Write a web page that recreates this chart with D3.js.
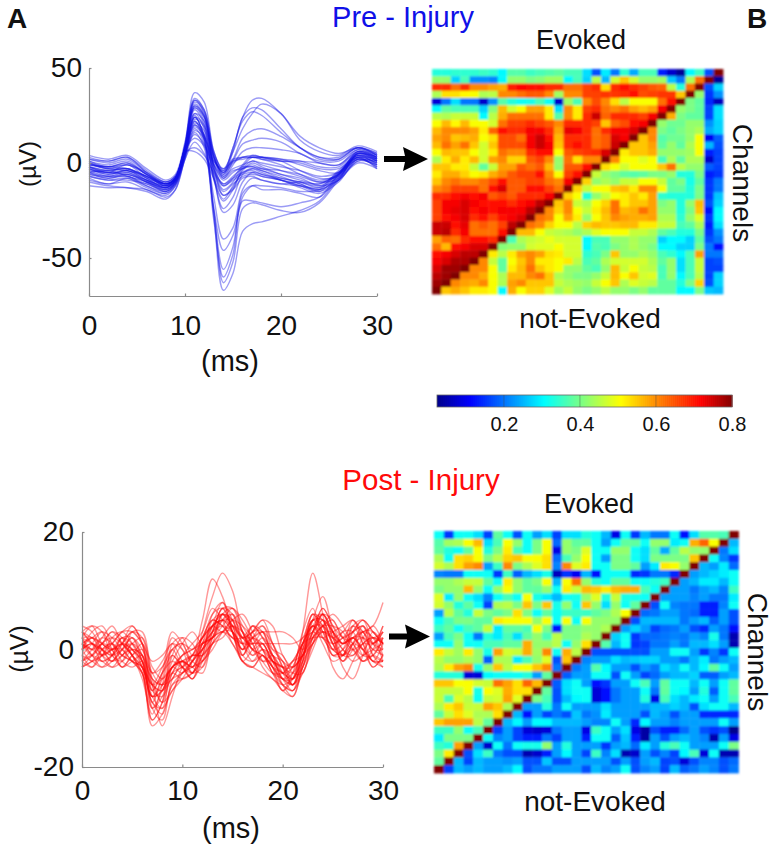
<!DOCTYPE html>
<html>
<head>
<meta charset="utf-8">
<script src="https://cdn.jsdelivr.net/npm/d3@7"></script>
<style>
body { margin: 0; background: #fff; }
text { font-family: "Liberation Sans", Arial, sans-serif; fill: #111; }
</style>
</head>
<body>
<div id="viz"></div>
<script>
// time knots of the traces (ms)
const preTimes = [0,2,4,6,8,9,10,11,12,13,14,15,16,17,18,20,22,24,26,28,30]
const postTimes = d3.range(0, 31)

// pre-injury traces (uV), one row per channel
const preTraces = [
  [-5,-7,-6,-10,-13,-9,4,20,12,-28,-67,-58,-36,-32,-31,-28,-25,-20,-8,2,0],
  [-2,-4,-3,-8,-11,-8,5,24,14,-24,-63,-52,-24,-21,-22,-25,-26,-21,-9,1,1],
  [-7,-9,-8,-13,-16,-11,3,18,10,-30,-60,-48,-20,-20,-21,-23,-21,-18,-6,3,2],
  [-4,-7,-7,-11,-14,-10,4,22,12,-26,-56,-44,-16,-12,-14,-14,-16,-18,-7,2,-1],
  [-9,-11,-10,-14,-17,-12,2,16,8,-24,-46,-38,-18,-12,-12,-13,-15,-14,-5,4,1],
  [-6,-8,-7,-12,-15,-10,5,25,13,-18,-40,-34,-14,-8,-9,-11,-12,-13,-4,3,0],
  [1,-2,0,-6,-12,-8,8,30,24,-6,-26,-22,-10,-5,-6,-9,-11,-15,-9,5,3],
  [-3,-5,-4,-9,-14,-10,6,28,20,-8,-24,-18,-6,-3,-4,-8,-10,-12,-6,4,2],
  [-5,-4,-7,-10,-15,-11,5,26,18,-9,-20,-14,-4,0,-2,-6,-9,-11,-5,5,2],
  [-8,-11,-8,-12,-16,-12,4,24,15,-8,-19,-12,-5,-3,-5,-9,-13,-16,-10,2,-2],
  [2,1,3,-5,-11,-8,9,33,26,-2,-17,-13,-3,1,-1,-4,-7,-10,-6,6,3],
  [-2,-5,-1,-8,-13,-9,7,29,22,-3,-14,-10,-2,3,2,-1,-6,-10,-8,5,1],
  [-1,-3,-4,-7,-12,-9,8,31,25,-1,-12,-8,-1,4,3,1,-4,-8,-7,5,2],
  [-10,-12,-13,-14,-18,-14,3,22,14,-4,-11,-7,-3,-2,-4,-7,-11,-14,-8,2,-2],
  [3,1,3,-4,-10,-7,10,37,32,6,-4,8,24,33,34,26,14,8,5,8,5],
  [4,2,4,-3,-9,-6,11,34,28,5,-3,6,18,26,31,26,12,6,4,9,6],
  [0,-3,-1,-6,-11,-8,9,32,27,4,-6,6,24,29,28,18,8,3,3,8,4],
  [-1,-2,-3,-7,-12,-9,8,30,25,3,-5,8,22,27,25,16,8,2,2,8,5],
  [2,0,2,-5,-11,-8,9,33,28,6,-5,2,13,17,18,14,8,3,2,8,4],
  [1,-1,1,-6,-11,-8,8,29,24,4,-7,1,10,12,13,11,5,1,1,7,3],
  [-3,-6,-4,-8,-13,-9,7,26,22,3,-8,-1,6,8,8,7,5,0,-1,6,3],
  [0,-2,-1,-5,-10,-7,8,24,20,3,-6,0,3,4,3,1,1,0,-1,7,4],
  [-2,-4,-3,-7,-11,-8,8,23,19,2,-5,1,3,3,3,2,1,-2,-2,6,4],
  [-4,-5,-6,-9,-13,-9,7,21,17,1,-4,2,3,3,2,1,0,-3,-3,5,3],
  [-1,-2,0,-6,-10,-7,7,20,15,1,-3,1,2,3,3,2,-1,-4,-5,6,2],
  [-6,-7,-5,-10,-14,-10,6,19,14,0,-7,-3,-1,1,0,-2,-4,-7,-5,4,1],
  [-7,-9,-9,-11,-15,-11,5,17,13,-1,-9,-5,-2,-2,-3,-4,-6,-9,-6,3,0],
  [-3,-6,-4,-9,-12,-8,6,15,10,-1,-8,-4,-3,-1,-3,-6,-8,-12,-9,1,-1],
  [0,-3,-3,-7,-11,-8,7,13,9,-3,-11,-8,-5,-4,-6,-8,-10,-13,-7,3,-3],
  [-12,-13,-13,-15,-19,-14,2,11,5,-5,-12,-9,-6,-5,-7,-9,-12,-14,-9,0,-3],
  [-5,-8,-6,-10,-13,-9,5,8,4,-6,-15,-11,-7,-6,-7,-9,-12,-15,-6,4,-1],
  [-2,-5,-5,-9,-12,-9,6,6,2,-8,-17,-14,-8,-7,-9,-11,-10,-11,-6,3,1]
]

// post-injury traces (uV), one row per channel
const postTraces = [
  [4,3,0,-2,1,4,1,-6,-7,1,2,-1,0,5,6,4,-1,3,5,1,-3,-6,-2,5,6,2,-1,4,5,1,-1],
  [2,4,3,-1,-2,0,-1,-9,-10,-3,-4,-2,1,3,7,6,2,1,3,-1,-5,-4,1,6,4,0,1,5,2,-2,1],
  [0,-2,-1,2,3,1,-3,-12,-9,-1,-3,-5,-1,4,5,5,3,0,-1,-3,-6,-7,-3,3,7,4,2,1,-2,0,4],
  [-2,-3,0,1,-1,-2,-4,-13,-11,-6,-4,-3,-2,1,6,7,4,1,-2,-2,-5,-7,0,5,5,1,-2,0,3,3,0],
  [3,1,-2,-1,2,2,-2,-8,-5,2,0,-4,-1,6,8,3,-2,0,2,0,-1,-4,-4,2,4,5,2,3,4,-1,-3],
  [1,0,2,4,1,-1,-5,-11,-6,0,1,-3,-4,2,5,6,1,-1,1,-3,-7,-5,1,4,3,3,1,2,0,-3,-1],
  [-3,-1,1,0,-3,-1,0,-7,-8,-4,-1,0,2,4,3,5,4,2,-2,-4,-4,-2,-1,3,6,2,-2,1,4,2,3],
  [2,2,-1,-3,-2,1,-1,-10,-12,-5,-3,-5,-2,3,7,4,0,3,3,-2,-6,-8,-2,6,3,-1,0,4,1,-2,-2],
  [0,3,4,1,-1,3,3,-5,-9,-4,-2,-4,1,2,4,6,3,-1,0,-1,-4,-3,3,7,2,0,3,3,-1,-1,2],
  [-1,-2,-3,-1,2,0,-2,-9,-4,3,1,-2,-3,1,3,3,0,2,0,-4,-5,-6,-4,1,5,3,0,-1,2,4,1],
  [3,4,1,0,1,-1,-3,-6,-3,0,-3,-5,0,4,6,5,-1,-2,0,-2,-3,-5,1,5,5,1,2,4,3,0,0],
  [-2,0,2,1,-2,-3,-2,-8,-10,-7,-5,-2,2,5,4,2,1,4,2,-1,-5,-5,-1,2,4,4,3,0,-2,-1,2],
  [1,-1,-3,-2,0,2,0,-4,-2,1,-2,-4,-3,3,7,7,3,0,-1,-4,-7,-4,2,3,6,3,-1,-1,1,2,-1],
  [2,0,1,3,2,-1,-4,-12,-9,-3,-1,0,1,2,6,4,2,3,4,0,-2,-6,-2,4,2,1,2,3,4,1,3],
  [-3,-2,-1,0,0,-2,-3,-10,-7,-4,-5,-4,-1,1,3,4,3,1,-3,-5,-6,-5,-2,1,3,2,0,-2,-1,0,1],
  [0,1,0,-2,-1,1,2,-3,-5,-3,-1,1,3,7,5,1,-1,2,3,1,-2,-3,-1,3,7,4,1,2,0,-2,-2],
  [-1,-3,-1,1,3,4,1,-7,-4,-2,-3,-1,1,2,5,7,5,2,0,-2,-3,-4,0,5,4,-1,-1,3,5,3,1],
  [1,2,3,0,-3,-2,-1,-5,-6,-5,-2,-1,-1,4,8,5,1,-2,-1,-3,-5,-6,-3,2,6,5,2,0,1,1,4],
  [-2,-1,-2,-3,-1,0,-1,-6,-9,-7,-4,-2,0,2,3,2,0,1,1,-2,-4,-2,1,4,1,-2,-1,2,3,-1,-2],
  [3,1,0,1,3,3,1,-2,-1,1,0,-2,2,5,4,2,2,4,2,-1,-3,-3,-1,1,3,2,3,5,3,1,0],
  [1,2,0,-1,0,1,-2,-8,-6,-3,-2,-3,3,9,13,10,3,0,1,-2,-3,-2,1,4,4,2,1,2,0,2,1],
  [0,1,-1,-2,0,2,-1,-5,-6,-3,-2,-1,5,12,9,3,-2,-3,-1,-3,-4,-5,-1,5,3,0,-1,1,2,1,3],
  [0,1,-1,0,1,0,-2,-6,-5,-3,-2,-3,1,4,5,4,2,2,1,-2,-4,-5,3,13,6,-3,-5,-2,1,2,1],
  [2,1,0,-1,1,0,-3,-7,-4,-1,-3,-4,1,6,7,3,-1,2,4,1,-3,-6,-1,5,9,3,-3,-5,-1,3,1],
  [-2,-1,1,2,1,-1,-4,-10,-8,-3,-2,-3,0,3,4,3,1,2,3,3,3,2,0,3,5,3,1,2,3,4,8],
  [1,0,-1,0,2,1,-2,-8,-7,-4,-3,-1,2,4,5,3,1,1,1,1,1,1,2,6,5,1,-1,0,-2,-1,-2],
  [-3,-2,0,1,-1,-2,-3,-6,-7,-5,-4,-2,0,2,3,1,-2,-3,-4,-5,-7,-8,-3,2,3,0,-1,1,0,-2,-3],
  [3,2,1,0,1,3,1,-4,-3,0,1,0,2,4,6,5,2,3,5,4,-1,-3,-1,4,6,3,1,3,5,3,1],
  [-1,1,3,2,0,-2,-4,-9,-11,-6,-5,-4,-2,0,3,5,6,3,0,-3,-5,-3,1,2,2,-1,0,2,2,0,-1],
  [2,-1,-2,-1,1,3,2,-4,-6,-2,1,3,1,3,5,3,-2,-3,-1,-4,-6,-7,-4,0,4,6,4,1,-1,1,2],
  [0,2,1,-1,-3,-1,1,-6,-13,-8,-3,-1,-1,1,2,4,2,0,-2,-1,-4,-6,0,3,2,3,4,5,1,-3,-1],
  [1,-1,1,3,1,-1,-3,-8,-7,-1,2,1,-2,2,6,3,0,4,3,-1,-2,-5,-3,1,4,1,-2,1,3,2,-2]
]

// connectivity matrices, row 0 on top (diagonal runs bottom-left to top-right)
const preMatrix = [
  [.33,.33,.34,.34,.34,.35,.34,.3,.37,.37,.35,.36,.37,.38,.36,.36,.28,.17,.29,.2,.34,.24,.36,.36,.13,.07,.03,.3,.35,.17,.8],
  [.42,.42,.27,.36,.22,.22,.21,.3,.42,.42,.4,.41,.43,.43,.3,.36,.27,.45,.25,.47,.55,.47,.42,.42,.43,.26,.2,.44,.62,.8,.03],
  [.68,.68,.62,.68,.6,.6,.58,.57,.69,.71,.7,.7,.68,.68,.62,.62,.66,.68,.53,.68,.7,.68,.66,.64,.63,.45,.33,.62,.8,.17,.27],
  [.44,.53,.53,.51,.5,.44,.45,.6,.6,.62,.64,.64,.6,.43,.6,.6,.66,.66,.67,.67,.68,.7,.65,.66,.67,.67,.55,.8,.42,.15,.22],
  [.08,.2,.28,.2,.2,.07,.22,.37,.33,.31,.32,.36,.31,.07,.43,.36,.6,.65,.6,.53,.45,.5,.5,.5,.62,.7,.8,.4,.38,.14,.06],
  [.3,.38,.36,.36,.36,.27,.41,.56,.47,.5,.58,.58,.52,.28,.6,.52,.66,.68,.62,.6,.62,.58,.56,.58,.72,.8,.42,.4,.38,.16,.28],
  [.45,.44,.46,.46,.46,.3,.45,.57,.62,.62,.62,.62,.52,.37,.6,.52,.68,.75,.63,.68,.68,.68,.66,.72,.8,.57,.4,.38,.38,.16,.28],
  [.5,.56,.51,.56,.5,.5,.47,.62,.66,.66,.68,.66,.64,.6,.68,.68,.68,.66,.55,.63,.65,.7,.72,.8,.42,.39,.39,.42,.42,.22,.27],
  [.56,.6,.6,.6,.58,.52,.63,.7,.68,.68,.72,.72,.68,.58,.73,.72,.68,.62,.68,.72,.72,.74,.8,.6,.4,.38,.4,.42,.44,.24,.27],
  [.58,.6,.55,.56,.57,.5,.53,.65,.65,.62,.72,.75,.7,.56,.68,.68,.68,.62,.64,.74,.72,.8,.55,.6,.37,.39,.39,.42,.5,.1,.18],
  [.56,.62,.58,.62,.55,.47,.55,.65,.65,.65,.72,.75,.72,.55,.68,.7,.68,.62,.64,.75,.8,.55,.55,.58,.38,.42,.38,.44,.5,.25,.17],
  [.5,.56,.55,.55,.5,.47,.52,.62,.6,.6,.68,.7,.7,.5,.64,.66,.67,.68,.74,.8,.52,.55,.55,.57,.42,.42,.42,.43,.5,.13,.16],
  [.44,.52,.57,.52,.56,.47,.58,.6,.54,.54,.64,.66,.6,.42,.62,.53,.6,.6,.8,.6,.5,.5,.48,.5,.36,.44,.38,.44,.44,.07,.16],
  [.55,.55,.52,.52,.46,.38,.46,.58,.58,.64,.62,.64,.56,.42,.64,.64,.7,.8,.53,.5,.47,.5,.5,.5,.55,.62,.45,.42,.42,.18,.16],
  [.52,.57,.57,.54,.5,.52,.57,.6,.64,.66,.66,.7,.6,.5,.66,.7,.8,.46,.42,.4,.38,.37,.38,.4,.4,.42,.33,.33,.4,.13,.15],
  [.55,.6,.62,.6,.6,.62,.65,.7,.64,.64,.66,.66,.62,.6,.72,.8,.54,.42,.44,.42,.46,.46,.5,.5,.46,.38,.4,.32,.38,.15,.2],
  [.6,.62,.66,.66,.66,.62,.7,.74,.64,.64,.7,.7,.66,.62,.8,.54,.46,.5,.5,.55,.56,.52,.6,.6,.5,.38,.38,.33,.4,.15,.2],
  [.68,.68,.7,.72,.7,.72,.64,.66,.64,.68,.68,.68,.72,.8,.54,.5,.33,.42,.46,.5,.52,.55,.52,.58,.34,.33,.33,.33,.4,.15,.26],
  [.66,.72,.72,.74,.72,.7,.7,.7,.68,.7,.72,.76,.8,.55,.6,.46,.44,.5,.54,.62,.52,.55,.55,.58,.4,.42,.33,.42,.56,.17,.27],
  [.66,.72,.73,.74,.7,.72,.7,.72,.72,.72,.76,.8,.6,.54,.6,.5,.46,.52,.56,.62,.56,.57,.62,.58,.42,.42,.33,.4,.55,.12,.3],
  [.66,.7,.72,.74,.68,.7,.66,.7,.72,.74,.8,.62,.6,.5,.58,.52,.42,.5,.55,.6,.58,.57,.57,.58,.44,.44,.34,.42,.48,.15,.3],
  [.75,.75,.7,.73,.62,.64,.62,.66,.76,.8,.62,.6,.54,.5,.5,.45,.54,.56,.55,.55,.56,.56,.52,.52,.46,.46,.36,.38,.44,.13,.28],
  [.75,.76,.68,.72,.62,.62,.62,.7,.8,.56,.56,.5,.46,.45,.44,.42,.44,.48,.5,.5,.5,.46,.46,.44,.38,.36,.33,.33,.4,.15,.22],
  [.58,.63,.62,.68,.7,.7,.68,.8,.36,.44,.46,.47,.49,.47,.47,.47,.3,.36,.36,.42,.42,.44,.42,.42,.27,.3,.3,.27,.38,.17,.2],
  [.62,.56,.7,.72,.74,.74,.8,.41,.42,.42,.47,.48,.48,.5,.47,.47,.3,.37,.36,.4,.42,.44,.42,.4,.3,.3,.27,.27,.4,.2,.12],
  [.7,.72,.74,.76,.76,.8,.52,.45,.52,.58,.6,.58,.53,.52,.47,.47,.34,.36,.4,.55,.42,.42,.44,.42,.36,.34,.3,.36,.58,.2,.2],
  [.72,.74,.77,.77,.8,.6,.46,.38,.5,.55,.6,.52,.52,.5,.52,.45,.36,.38,.44,.47,.47,.47,.47,.44,.38,.42,.28,.36,.46,.16,.17],
  [.74,.78,.78,.8,.6,.6,.5,.38,.52,.56,.62,.55,.52,.5,.42,.42,.38,.36,.42,.56,.46,.5,.46,.45,.36,.42,.28,.36,.46,.16,.16],
  [.76,.78,.8,.6,.6,.57,.5,.44,.56,.56,.6,.62,.55,.44,.42,.4,.4,.42,.46,.56,.5,.55,.47,.48,.36,.42,.3,.36,.45,.16,.27],
  [.78,.8,.6,.58,.57,.6,.5,.44,.58,.6,.55,.55,.55,.46,.44,.43,.42,.46,.5,.55,.44,.48,.46,.45,.38,.38,.33,.4,.54,.17,.27],
  [.8,.55,.57,.55,.52,.52,.5,.3,.57,.5,.54,.54,.48,.43,.46,.42,.4,.42,.45,.42,.42,.4,.42,.38,.38,.38,.3,.3,.4,.26,.25]
]

const postMatrix = [
  [.31,.15,.31,.31,.28,.16,.38,.31,.17,.31,.23,.28,.16,.28,.28,.33,.31,.25,.09,.31,.15,.25,.2,.2,.31,.12,.28,.37,.37,.36,.8],
  [.37,.43,.44,.5,.56,.28,.36,.5,.42,.31,.4,.5,.19,.42,.38,.38,.31,.23,.31,.38,.38,.31,.42,.42,.29,.31,.57,.63,.5,.8,.25],
  [.38,.33,.31,.38,.5,.33,.4,.52,.36,.31,.4,.5,.09,.42,.4,.48,.31,.31,.42,.42,.31,.28,.38,.24,.38,.45,.42,.42,.8,.2,.28],
  [.44,.31,.53,.54,.5,.4,.45,.54,.55,.5,.5,.53,.19,.36,.42,.5,.31,.23,.4,.4,.31,.28,.4,.4,.4,.4,.55,.8,.31,.21,.15],
  [.47,.44,.53,.58,.6,.23,.35,.6,.4,.44,.48,.53,.21,.6,.48,.52,.31,.31,.4,.4,.38,.23,.29,.52,.5,.42,.8,.25,.23,.29,.19],
  [.21,.2,.2,.31,.31,.31,.15,.35,.18,.25,.28,.32,.06,.15,.1,.25,.12,.31,.31,.31,.14,.15,.2,.2,.14,.8,.23,.25,.27,.29,.31],
  [.42,.42,.44,.46,.46,.38,.31,.52,.42,.38,.4,.5,.25,.5,.62,.42,.33,.31,.38,.38,.31,.31,.33,.35,.8,.23,.25,.29,.29,.25,.31],
  [.4,.42,.42,.56,.42,.31,.42,.5,.42,.38,.38,.42,.31,.52,.46,.56,.55,.52,.56,.57,.57,.36,.31,.8,.23,.23,.2,.23,.25,.21,.35],
  [.48,.29,.42,.31,.28,.21,.31,.36,.31,.5,.32,.29,.25,.31,.32,.42,.48,.33,.46,.32,.32,.31,.8,.23,.23,.23,.21,.23,.2,.2,.29],
  [.47,.42,.33,.38,.31,.16,.44,.45,.4,.55,.4,.55,.32,.42,.31,.55,.42,.28,.42,.31,.38,.8,.17,.31,.21,.2,.2,.13,.13,.21,.31],
  [.23,.45,.38,.33,.46,.4,.38,.4,.53,.4,.31,.38,.31,.35,.35,.35,.38,.4,.44,.5,.8,.19,.2,.23,.23,.2,.19,.13,.13,.23,.17],
  [.31,.36,.4,.4,.38,.38,.52,.5,.5,.5,.42,.5,.31,.5,.31,.5,.42,.42,.42,.8,.17,.25,.25,.25,.25,.2,.23,.25,.18,.23,.17],
  [.35,.38,.31,.36,.38,.46,.29,.38,.38,.36,.5,.4,.12,.4,.4,.42,.42,.44,.8,.23,.27,.23,.16,.19,.2,.23,.17,.14,.23,.2,.12],
  [.23,.36,.4,.31,.2,.33,.29,.36,.28,.38,.42,.36,.45,.4,.4,.44,.42,.8,.27,.31,.15,.19,.19,.2,.21,.2,.23,.21,.32,.2,.05],
  [.31,.31,.42,.31,.31,.36,.36,.38,.38,.57,.42,.42,.45,.31,.42,.53,.8,.37,.25,.31,.15,.16,.2,.2,.23,.2,.25,.25,.28,.23,.05],
  [.52,.46,.43,.52,.42,.32,.58,.47,.46,.57,.43,.6,.31,.57,.45,.8,.17,.17,.17,.17,.17,.17,.23,.23,.31,.31,.23,.15,.21,.15,.31],
  [.45,.42,.42,.44,.42,.18,.44,.44,.29,.36,.42,.48,.17,.55,.8,.21,.23,.23,.28,.25,.26,.27,.27,.23,.23,.2,.25,.29,.2,.23,.25],
  [.44,.52,.58,.6,.32,.42,.55,.45,.5,.5,.55,.6,.2,.8,.2,.23,.37,.3,.23,.23,.17,.23,.2,.28,.25,.31,.25,.3,.38,.31,.23],
  [.33,.33,.33,.08,.08,.3,.31,.31,.31,.33,.23,.38,.8,.18,.23,.23,.31,.31,.17,.31,.23,.16,.19,.23,.25,.25,.27,.18,.18,.23,.25],
  [.55,.55,.5,.5,.47,.46,.62,.58,.53,.63,.56,.8,.18,.28,.31,.23,.12,.15,.23,.23,.31,.36,.23,.38,.31,.31,.25,.31,.23,.31,.38],
  [.46,.46,.46,.5,.32,.5,.48,.57,.53,.53,.8,.38,.17,.28,.31,.31,.08,.12,.2,.23,.23,.31,.2,.38,.31,.3,.23,.33,.18,.31,.38],
  [.46,.36,.48,.45,.31,.46,.47,.58,.48,.8,.4,.36,.17,.25,.3,.31,.08,.12,.2,.23,.23,.33,.09,.36,.28,.25,.29,.31,.23,.31,.36],
  [.44,.52,.55,.46,.46,.58,.55,.44,.8,.23,.23,.33,.2,.31,.23,.23,.23,.28,.23,.23,.23,.23,.25,.25,.27,.25,.17,.28,.31,.31,.25],
  [.38,.46,.53,.48,.44,.44,.53,.8,.25,.12,.23,.16,.2,.17,.26,.2,.22,.29,.23,.23,.23,.17,.25,.23,.17,.23,.23,.14,.14,.14,.14],
  [.55,.58,.58,.58,.45,.38,.8,.25,.3,.23,.3,.3,.25,.25,.25,.23,.21,.21,.31,.23,.14,.3,.23,.23,.21,.23,.23,.23,.23,.31,.23],
  [.35,.35,.42,.31,.36,.8,.16,.23,.16,.08,.07,.08,.2,.23,.23,.09,.35,.31,.23,.28,.09,.04,.17,.13,.13,.19,.23,.17,.15,.17,.02],
  [.29,.4,.4,.4,.8,.31,.21,.23,.16,.13,.13,.2,.16,.23,.23,.13,.31,.31,.18,.26,.13,.04,.23,.17,.23,.25,.23,.21,.05,.23,.09],
  [.35,.33,.58,.8,.23,.07,.31,.2,.31,.32,.32,.42,.23,.33,.23,.23,.23,.15,.23,.25,.19,.29,.23,.33,.36,.31,.23,.23,.23,.31,.4],
  [.4,.52,.8,.17,.28,.35,.2,.17,.17,.05,.07,.13,.23,.3,.23,.16,.35,.21,.28,.05,.07,.23,.17,.21,.16,.3,.36,.08,.31,.05,.05],
  [.38,.8,.25,.16,.25,.23,.23,.22,.23,.17,.17,.26,.17,.17,.23,.23,.23,.23,.17,.23,.17,.23,.25,.16,.17,.08,.17,.21,.21,.17,.19],
  [.8,.16,.25,.23,.25,.23,.23,.25,.3,.17,.2,.2,.23,.23,.23,.17,.25,.21,.23,.31,.17,.21,.23,.16,.25,.18,.2,.23,.21,.17,.2]
]

const colorTicks = [0.2, 0.4, 0.6, 0.8]

preMatrix.concat(postMatrix).forEach((r, i) => { if (r.length != 31) throw new Error("row " + i + " has " + r.length) })

const width = 779
const height = 850

const svg = d3.select("#viz").append("svg").attr("width", width).attr("height", height)

const defs = svg.append("defs")
defs.append("filter").attr("id", "soft").attr("x", "-2%").attr("y", "-2%").attr("width", "104%").attr("height", "104%")
    .append("feGaussianBlur").attr("stdDeviation", 1)

// matlab jet over the colorbar range
const jetStops = ["#00008f", "#0000ff", "#00ffff", "#80ff80", "#ffff00", "#ff8000", "#ff0000", "#800000"]
const jetFrac = [0, 0.11, 0.36, 0.49, 0.62, 0.75, 0.89, 1]
const color = d3.scaleLinear()
    .domain(jetFrac.map(f => 0.024 + f * (0.8 - 0.024)))
    .range(jetStops)
    .clamp(true)

function tracesPanel(traces, times, box, yDomain, yTicks, lineColor, xPad, yPad) {
    const x = d3.scaleLinear().domain([0, 30]).range([box.left, box.right])
    const y = d3.scaleLinear().domain(yDomain).range([box.bottom, box.top])
    const line = d3.line().x((d, i) => x(times[i])).y(d => y(d)).curve(d3.curveCatmullRom)

    svg.append("g").selectAll("path").data(traces).join("path")
        .attr("d", line)
        .attr("fill", "none")
        .attr("stroke", lineColor)
        .attr("stroke-opacity", 0.42)
        .attr("stroke-width", 1.4)

    const xAxis = d3.axisBottom(x).tickValues([0, 10, 20, 30]).tickSize(-2.5).tickPadding(xPad).tickSizeOuter(0)
    const yAxis = d3.axisLeft(y).tickValues(yTicks).tickFormat(d => d).tickSize(-2.5).tickPadding(yPad).tickSizeOuter(0)

    const gx = svg.append("g").attr("transform", `translate(0,${box.bottom})`).call(xAxis)
    const gy = svg.append("g").attr("transform", `translate(${box.left},0)`).call(yAxis)
    ;[gx, gy].forEach(g => {
        g.selectAll("path,line").attr("stroke", "#8a8a8a").attr("stroke-width", 1.2)
        g.selectAll("text").attr("font-size", 28).attr("font-family", "Liberation Sans").attr("fill", "#111")
    })
}

function matrixPanel(matrix, box) {
    const idx = d3.range(31)
    const x = d3.scaleBand().domain(idx).range([box.left, box.right])
    const y = d3.scaleBand().domain(idx).range([box.top, box.bottom])
    const g = svg.append("g").attr("filter", "url(#soft)")
    g.selectAll("g").data(matrix).join("g")
        .attr("transform", (d, i) => `translate(0,${y(i)})`)
        .selectAll("rect").data(d => d).join("rect")
        .attr("x", (d, j) => x(j))
        .attr("width", x.bandwidth() + 0.4)
        .attr("height", y.bandwidth() + 0.4)
        .attr("fill", d => color(d))
}

function label(txt, px, py, size, opts = {}) {
    const t = svg.append("text").text(txt)
        .attr("text-anchor", "middle")
        .attr("font-size", size)
        .attr("font-weight", opts.bold ? "bold" : null)
        .attr("transform", `translate(${px},${py})` + (opts.rotate ? ` rotate(${opts.rotate})` : ""))
    if (opts.fill) t.style("fill", opts.fill)
}

function arrow(x0, x1, yc) {
    svg.append("path")
        .attr("d", d3.line()([[x0, yc - 3], [x1 - 23, yc - 3], [x1 - 25, yc - 12], [x1, yc], [x1 - 25, yc + 12], [x1 - 23, yc + 3], [x0, yc + 3]]) + "Z")
        .attr("fill", "#000")
}

tracesPanel(preTraces, preTimes, {left: 89, right: 377, top: 68, bottom: 296}, [-70, 50], [-50, 0, 50], "#1010e8", 19, 7)
tracesPanel(postTraces, postTimes, {left: 82, right: 383, top: 532, bottom: 767}, [-20, 20], [-20, 0, 20], "#ff0a0a", 13, 8)

matrixPanel(preMatrix, {left: 432, right: 723, top: 69, bottom: 294})
matrixPanel(postMatrix, {left: 434, right: 738.5, top: 531, bottom: 773})

// colorbar
const cbScale = d3.scaleLinear().domain([0.024, 0.8]).range([437, 732])
const cbSteps = d3.range(0.024, 0.8, 0.776 / 148)
svg.append("g").selectAll("rect").data(cbSteps).join("rect")
    .attr("x", d => cbScale(d))
    .attr("y", 395)
    .attr("width", 2.6)
    .attr("height", 12)
    .attr("fill", d => color(d))
svg.append("rect").attr("x", 437).attr("y", 395).attr("width", 295).attr("height", 12)
    .attr("fill", "none").attr("stroke", "#666").attr("stroke-width", 0.8)
const cbAxis = d3.axisBottom(cbScale).tickValues(colorTicks).tickFormat(d3.format(".1f")).tickSize(0).tickPadding(10)
const gcb = svg.append("g").attr("transform", "translate(0,407)").call(cbAxis)
gcb.select(".domain").remove()
gcb.selectAll("text").attr("font-size", 20).attr("font-family", "Liberation Sans").attr("fill", "#111")
svg.append("g").selectAll("line").data(colorTicks.slice(0, 3)).join("line")
    .attr("x1", d => cbScale(d)).attr("x2", d => cbScale(d)).attr("y1", 395).attr("y2", 407)
    .attr("stroke", "#444").attr("stroke-width", 0.7).attr("stroke-opacity", 0.6)

// labels
label("A", 17, 28, 28, {bold: true})
label("B", 757, 28, 28, {bold: true})
label("Pre - Injury", 403, 27, 29, {fill: "#1010e8"})
label("Post - Injury", 421, 490, 29.5, {fill: "#ff0a0a"})
label("Evoked", 581, 49, 27)
label("Evoked", 589, 513, 27)
label("not-Evoked", 590, 328, 28)
label("not-Evoked", 595, 811, 28)
label("Channels", 733, 183, 28, {rotate: 90})
label("Channels", 748, 652, 28, {rotate: 90})
label("(µV)", 36, 164, 24, {rotate: -90})
label("(µV)", 28, 649, 25, {rotate: -90})
label("(ms)", 230, 371, 29)
label("(ms)", 231, 838, 29)

arrow(384, 428, 159)
arrow(389, 430, 636.5)
</script>
</body>
</html>
